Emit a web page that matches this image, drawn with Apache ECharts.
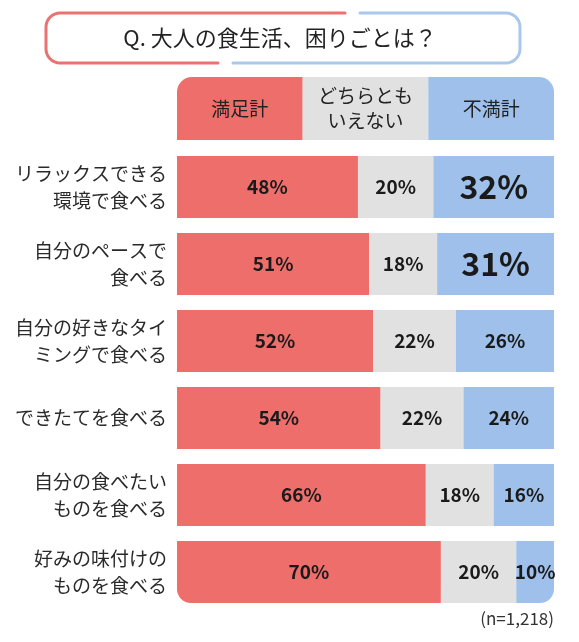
<!DOCTYPE html>
<html>
<head>
<meta charset="utf-8">
<script src="https://cdn.jsdelivr.net/npm/echarts@6/dist/echarts.min.js"></script>
<style>
  html, body { margin: 0; padding: 0; background: #fff; }
  #main { width: 579px; height: 642px; }
</style>
</head>
<body>
<div id="main"></div>
<script>
// 数据
var categories = [
    'リラックスできる\n環境で食べる',
    '自分のペースで\n食べる',
    '自分の好きなタイ\nミングで食べる',
    'できたてを食べる',
    '自分の食べたい\nものを食べる',
    '好みの味付けの\nものを食べる'
];
var satisfied = [48, 51, 52, 54, 66, 70];
var neutral = [20, 18, 22, 22, 18, 20];
var dissatisfied = [32, 31, 26, 24, 16, 10];

var headerNames = ['満足計', 'どちらとも\nいえない', '不満計'];
var headerShares = [1, 1, 1];

var RED = '#ee6e6c';
var GRAY = '#e2e1e1';
var BLUE = '#9ec0ea';
var FONT = 'Noto Sans CJK JP';

var last = categories.length - 1;

function rowData(values, radius, bigFrom) {
    return values.map(function (v, i) {
        var item = { value: v };
        if (i === last) {
            item.itemStyle = { borderRadius: radius };
        }
        if (bigFrom && v >= bigFrom) {
            item.label = { fontSize: 32 };
        }
        return item;
    });
}

// 角丸の点列
function corner(cx, cy, r, a0, a1) {
    var pts = [];
    for (var k = 0; k <= 8; k++) {
        var a = (a0 + (a1 - a0) * k / 8) * Math.PI / 180;
        pts.push([cx + r * Math.cos(a), cy + r * Math.sin(a)]);
    }
    return pts;
}

var BX0 = 46, BX1 = 520, BY0 = 13, BY1 = 63, BR = 14;
var redFrame = [[345, BY0]]
    .concat(corner(BX0 + BR, BY0 + BR, BR, 270, 180))
    .concat(corner(BX0 + BR, BY1 - BR, BR, 180, 90))
    .concat([[218, BY1]]);
var blueFrame = [[360, BY0]]
    .concat(corner(BX1 - BR, BY0 + BR, BR, 270, 360))
    .concat(corner(BX1 - BR, BY1 - BR, BR, 0, 90))
    .concat([[233, BY1]]);

var valueLabel = {
    show: true,
    position: 'inside',
    formatter: '{c}%',
    color: '#1a1a1a',
    fontFamily: FONT,
    fontWeight: 'bold',
    fontSize: 19
};

var headerColors = [RED, GRAY, BLUE];
var headerRadius = [[15, 0, 0, 0], 0, [0, 15, 0, 0]];

var headerSeries = headerNames.map(function (name, i) {
    return {
        type: 'bar',
        stack: 'head',
        xAxisIndex: 1,
        yAxisIndex: 1,
        barWidth: 63,
        silent: true,
        data: [{ value: headerShares[i], itemStyle: { color: headerColors[i], borderRadius: headerRadius[i] } }],
        label: {
            show: true,
            position: 'inside',
            formatter: name,
            color: '#222',
            fontFamily: FONT,
            fontSize: 19,
            lineHeight: 25
        }
    };
});

var myChart = echarts.init(document.getElementById('main'));
var option = {
    animation: false,
    backgroundColor: '#fff',
    textStyle: { fontFamily: FONT },
    graphic: [
        {
            type: 'polyline',
            shape: { points: redFrame },
            style: { fill: null, stroke: '#ea7270', lineWidth: 3, lineCap: 'round', lineJoin: 'round' }
        },
        {
            type: 'polyline',
            shape: { points: blueFrame },
            style: { fill: null, stroke: '#a9c8ec', lineWidth: 3, lineCap: 'round', lineJoin: 'round' }
        },
        {
            type: 'text',
            x: 280,
            y: 38,
            style: {
                text: 'Q. 大人の食生活、困りごとは？',
                fill: '#222',
                font: '22px "Noto Sans CJK JP"',
                align: 'center',
                verticalAlign: 'middle'
            }
        },
        {
            type: 'text',
            x: 554,
            y: 619,
            style: {
                text: '(n=1,218)',
                fill: '#333',
                font: '17px "Noto Sans CJK JP"',
                align: 'right',
                verticalAlign: 'middle'
            }
        }
    ],
    grid: [
        { left: 177, right: 25, top: 148.5, height: 462 },
        { left: 177, right: 25, top: 77, height: 63 }
    ],
    xAxis: [
        { type: 'value', min: 0, max: 100, show: false, gridIndex: 0 },
        { type: 'value', min: 0, max: 3, show: false, gridIndex: 1 }
    ],
    yAxis: [
        {
            type: 'category',
            gridIndex: 0,
            inverse: true,
            data: categories,
            axisLine: { show: false },
            axisTick: { show: false },
            axisLabel: {
                margin: 10,
                color: '#2a2a2a',
                fontFamily: FONT,
                fontSize: 19,
                lineHeight: 27,
                align: 'right'
            }
        },
        { type: 'category', gridIndex: 1, data: [''], show: false }
    ],
    series: [
        {
            name: '満足計',
            type: 'bar',
            stack: 'all',
            barWidth: 62,
            itemStyle: { color: RED },
            label: valueLabel,
            data: rowData(satisfied, [0, 0, 0, 14])
        },
        {
            name: 'どちらともいえない',
            type: 'bar',
            stack: 'all',
            barWidth: 62,
            itemStyle: { color: GRAY },
            label: valueLabel,
            data: rowData(neutral, 0)
        },
        {
            name: '不満計',
            type: 'bar',
            stack: 'all',
            barWidth: 62,
            itemStyle: { color: BLUE },
            label: valueLabel,
            data: rowData(dissatisfied, [0, 0, 14, 0], 30)
        }
    ].concat(headerSeries)
};

myChart.setOption(option);
</script>
</body>
</html>
